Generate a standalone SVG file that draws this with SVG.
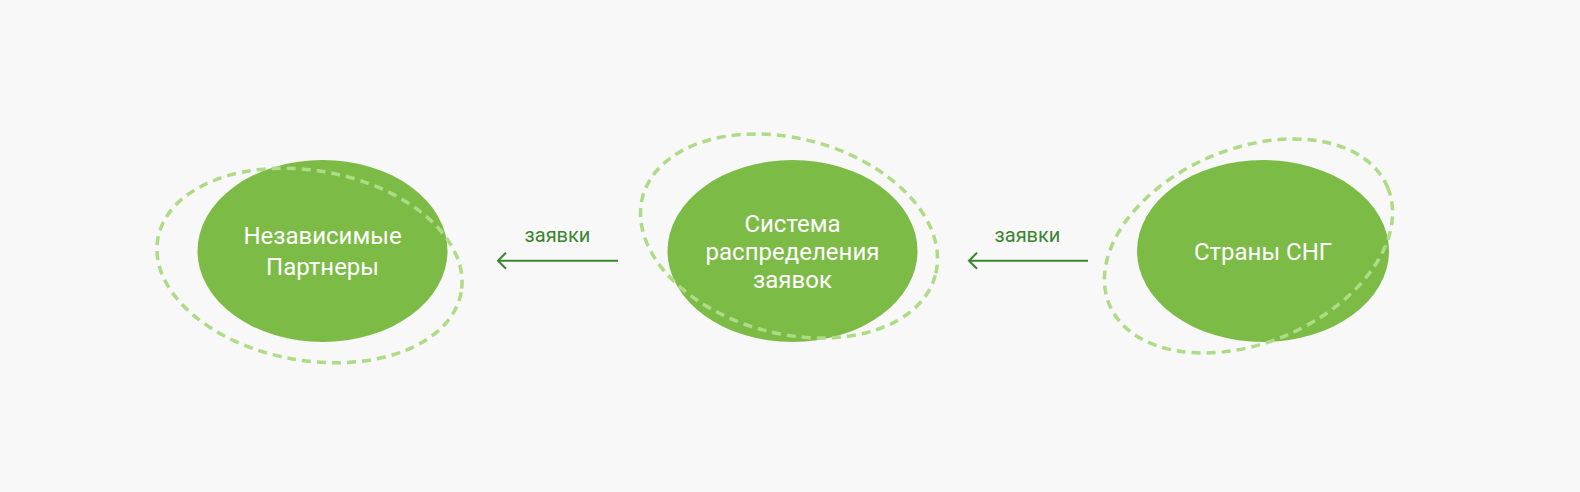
<svg xmlns="http://www.w3.org/2000/svg" width="1580" height="492" viewBox="0 0 1580 492">
  <defs>
    <style>
      .blob { fill: #7dbb47; }
      .ring { fill: none; stroke: #addc85; stroke-width: 3.5; stroke-dasharray: 9 6; }
      .ntext { font-family: Roboto, "Liberation Sans", sans-serif; font-size: 24px; fill: #ffffff; text-anchor: middle; }
      .edge { stroke: #3b8430; stroke-width: 2; fill: none; }
      .elabel { font-family: Roboto, "Liberation Sans", sans-serif; font-size: 20px; fill: #3b8430; text-anchor: middle; }
    </style>
    <marker id="arrow" markerWidth="12" markerHeight="18" refX="9" refY="9" orient="auto" markerUnits="userSpaceOnUse">
      <path d="M1,1 L9,9 L1,17" fill="none" stroke="#3b8430" stroke-width="2"/>
    </marker>
  </defs>
  <rect width="1580" height="492" fill="#f8f8f8"/>

  <g id="node-partners">
    <ellipse class="blob" cx="322.5" cy="251" rx="125" ry="91"/>
    <ellipse class="ring" cx="309.5" cy="265.5" rx="154" ry="95" transform="rotate(10 309.5 265.5)"/>
    <text class="ntext" x="322.5" y="244">Независимые</text>
    <text class="ntext" x="322.5" y="275">Партнеры</text>
  </g>

  <g id="node-system">
    <ellipse class="blob" cx="792.5" cy="251" rx="125" ry="91"/>
    <ellipse class="ring" cx="789" cy="236" rx="151.5" ry="97.5" transform="rotate(15 789 236)"/>
    <text class="ntext" x="792.5" y="231.5">Система</text>
    <text class="ntext" x="792.5" y="259.5">распределения</text>
    <text class="ntext" x="792.5" y="287.5">заявок</text>
  </g>

  <g id="node-cis">
    <ellipse class="blob" cx="1263" cy="251" rx="126" ry="91"/>
    <ellipse class="ring" cx="1248.5" cy="246" rx="151" ry="97" transform="rotate(-23 1248.5 246)"/>
    <text class="ntext" x="1263" y="260">Страны СНГ</text>
  </g>

  <g id="connectors">
    <line class="edge" x1="618" y1="260.7" x2="498" y2="260.7" marker-end="url(#arrow)"/>
    <text class="elabel" x="557.5" y="241.5">заявки</text>
    <line class="edge" x1="1088" y1="260.7" x2="969" y2="260.7" marker-end="url(#arrow)"/>
    <text class="elabel" x="1027.5" y="241.5">заявки</text>
  </g>
</svg>
